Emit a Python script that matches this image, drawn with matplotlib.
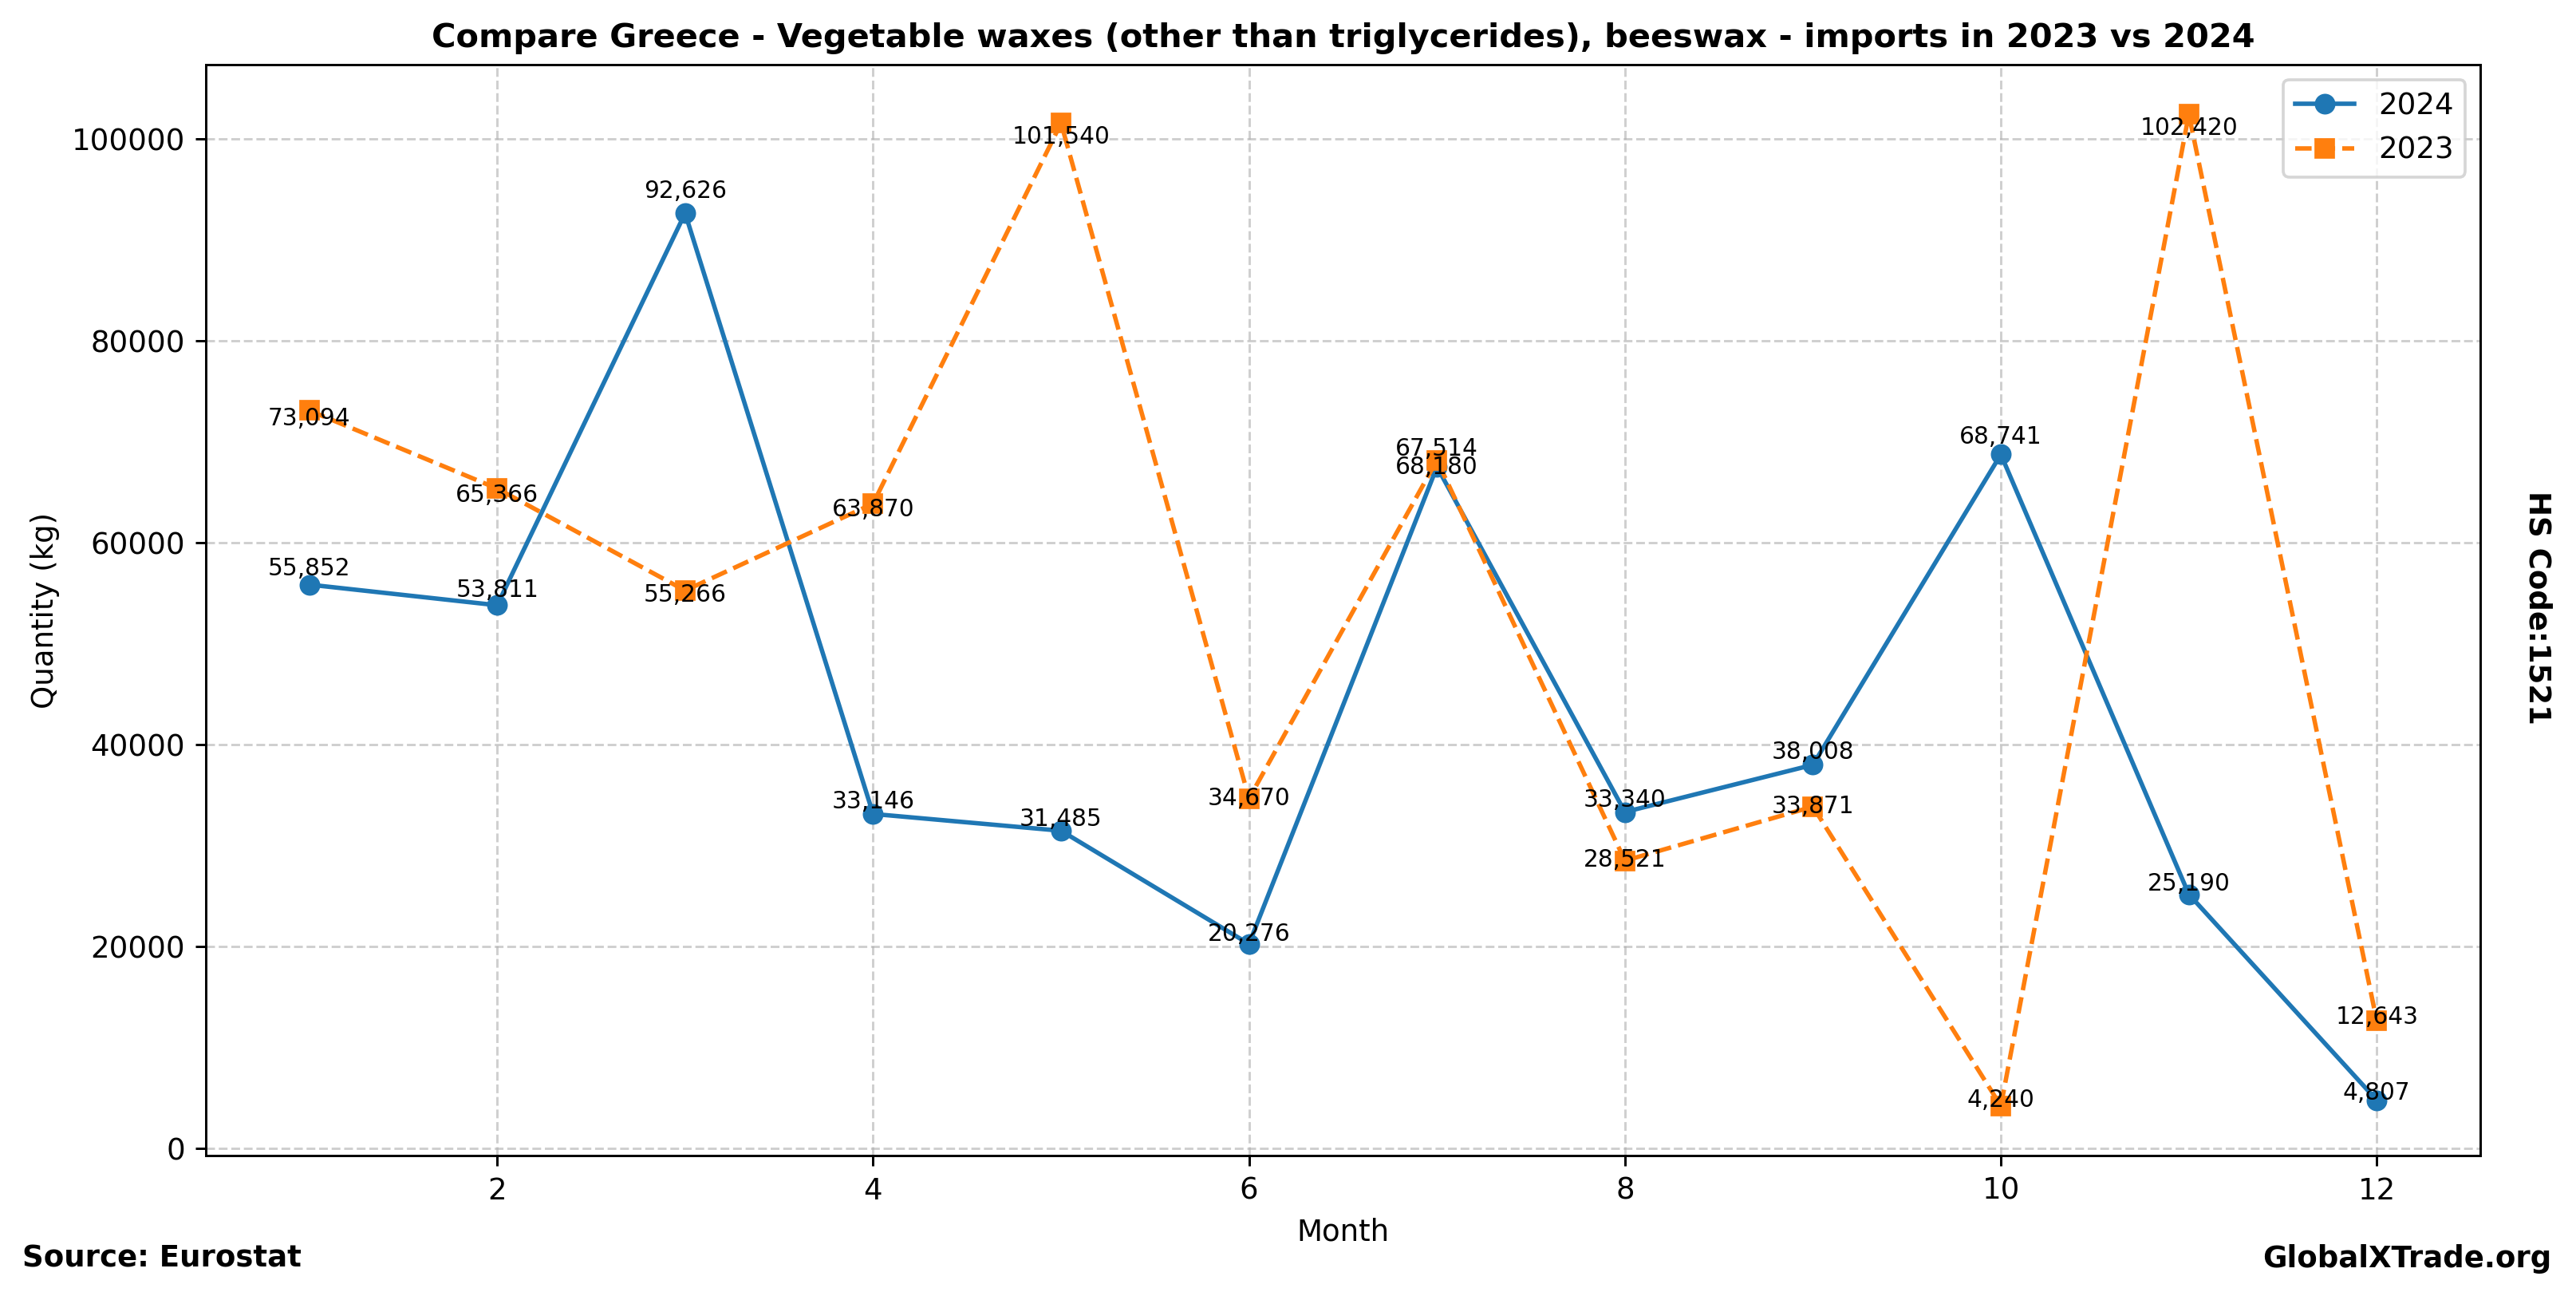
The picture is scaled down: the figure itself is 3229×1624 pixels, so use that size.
import numpy as np
import matplotlib
matplotlib.use('Agg')
import matplotlib.pyplot as plt

plt.close('all')
# =======================================================
# Monthly import quantities (kg), HS 1521, Greece
months = np.arange(1, 13)
qty_2024 = [55852, 53811, 92626, 33146, 31485, 20276,
            67514, 33340, 38008, 68741, 25190, 4807]
qty_2023 = [73094, 65366, 55266, 63870, 101540, 34670,
            68180, 28521, 33871, 4240, 102420, 12643]

# ========================================================
DPI = 267
fig, ax = plt.subplots(figsize=(3229 / DPI, 1624 / DPI), dpi=DPI)
fig.subplots_adjust(left=0.0799, right=0.9628, top=0.9501, bottom=0.1084)

ax.plot(months, qty_2024, marker='o', linestyle='-', color='#1f77b4', label='2024')
ax.plot(months, qty_2023, marker='s', linestyle='--', color='#ff7f0e', label='2023')

# value labels: 2024 just above the point, 2023 just below
for x, y in zip(months, qty_2024):
    ax.text(x, y * 1.016, f'{y:,}', ha='center', va='baseline', fontsize=8)
for x, y in zip(months, qty_2023):
    ax.text(x, y * 0.98, f'{y:,}', ha='center', va='baseline', fontsize=8)

ax.set_title('Compare Greece - Vegetable waxes (other than triglycerides), beeswax - imports in 2023 vs 2024',
             fontsize=11.2, fontweight='bold')
ax.set_xlabel('Month')
ax.set_ylabel('Quantity (kg)')
ax.grid(True, linestyle='--', alpha=0.6)
ax.legend(loc='upper right')

fig.text(0.0087, 0.0222, 'Source: Eurostat', fontsize=10, fontweight='bold', ha='left', va='baseline')
fig.text(0.9904, 0.0222, 'GlobalXTrade.org', fontsize=10, fontweight='bold', ha='right', va='baseline')
fig.text(0.985, 0.531, 'HS Code:1521', fontsize=10, fontweight='bold', rotation=270,
         ha='center', va='center')

plt.savefig('out.png', dpi=DPI)
